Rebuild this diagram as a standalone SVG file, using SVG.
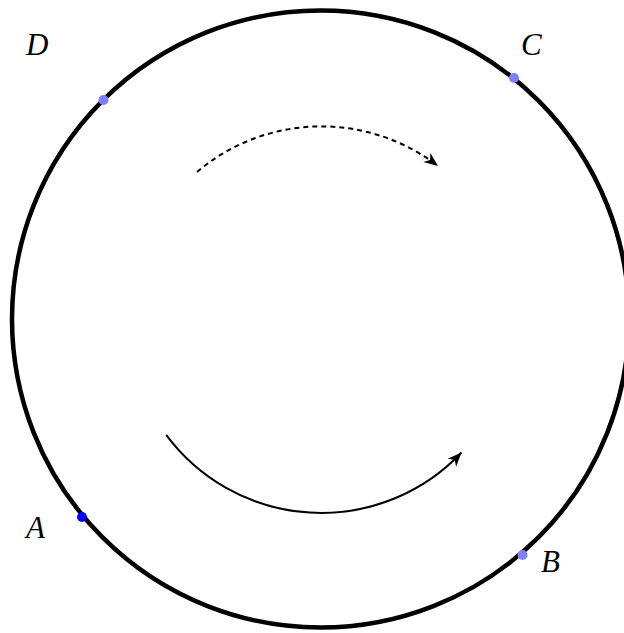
<svg xmlns="http://www.w3.org/2000/svg" width="624" height="633" viewBox="0 0 624 633">
  <style>
    .lbl { font-family: "Liberation Serif", "DejaVu Serif", serif; font-style: italic; font-size: 31px; fill: #000; }
    .pt { fill: #7f7fff; }
    .pt-main { fill: #0000ff; }
    .arc { fill: none; stroke: #000; stroke-width: 2; }
  </style>
  <defs>
    <marker id="stealth" markerUnits="userSpaceOnUse" viewBox="-15 -7 16 14" refX="0" refY="0" markerWidth="16" markerHeight="14" orient="auto">
      <path d="M0,0 L-14,-5.8 L-10,0 L-14,5.8 Z" fill="#000"/>
    </marker>
  </defs>
  <rect width="624" height="633" fill="#fff"/>
  <g id="circle">
    <circle cx="320.5" cy="319" r="308.5" fill="none" stroke="#000" stroke-width="4.5"/>
  </g>
  <g id="connectors">
    <path class="arc" stroke-dasharray="5 4" d="M197.1,171.9 A192,192 0 0 1 438,166" marker-end="url(#stealth)"/>
    <path class="arc" d="M166.2,434.9 A193,193 0 0 0 461.5,452.5" marker-end="url(#stealth)"/>
  </g>
  <g id="A">
    <circle class="pt-main" cx="82" cy="517" r="5"/>
    <text class="lbl" x="26" y="538">A</text>
  </g>
  <g id="B">
    <circle class="pt" cx="522.5" cy="555" r="5"/>
    <text class="lbl" x="541" y="572">B</text>
  </g>
  <g id="C">
    <circle class="pt" cx="514" cy="78" r="5"/>
    <text class="lbl" x="521" y="55">C</text>
  </g>
  <g id="D">
    <circle class="pt" cx="103.5" cy="100" r="5"/>
    <text class="lbl" x="26" y="55">D</text>
  </g>
</svg>
